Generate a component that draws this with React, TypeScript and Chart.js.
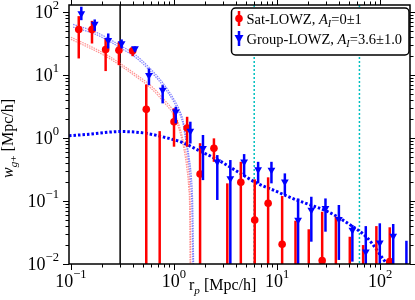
import React, { useEffect, useRef } from "react";
import { Chart, registerables } from "chart.js";
Chart.register(...registerables);

// ---------- data ----------
// Sat-LOWZ (null value: point lies below the axis; null low: bar runs past the bottom)
const satRp = [0.119, 0.16, 0.217, 0.292, 0.397, 0.538, 0.726, 1.0, 1.34, 1.79, 2.44, 3.29, 4.45, 6.07, 8.19, 11.2, 15.1, 20.3, 27.4, 37.2, 50.8, 68.4, 92, 124];
const satW = [53, 53, 25.6, 24.9, 24.4, 2.86, null, 1.82, 1.44, 0.268, 0.687, null, 0.198, 0.05, 0.092, 0.0206, null, null, 0.0113, null, null, null, null, 0.0109];
const satHi = [86.5, 72.8, 38.3, 33.8, 28.1, 7.1, 1.29, 2.97, 2.18, 0.83, 0.99, 0.191, 0.42, 0.221, 0.238, 0.12, 0.0486, 0.0356, 0.0676, 0.0564, 0.0271, 0.02, 0.04, 0.0383];
const satLo = [18.4, 31.8, 11.6, 14.4, 20, null, null, 0.73, 0.73, null, 0.42, null, null, null, null, null, null, null, null, null, null, null, null, null];

// Group-LOWZ
const grpRp = [0.126, 0.17, 0.23, 0.31, 0.418, 0.571, 0.776, 1.04, 1.44, 1.91, 2.63, 3.52, 4.79, 6.55, 8.82, 11.9, 16.0, 21.5, 29.5, 39.8, 53.8, 72.6, 99.3, 134, 180];
const grpW = [95.3, 64.6, 35.9, 31.9, 26.5, 10, 5.78, 2.61, 1.29, 0.687, 0.42, 0.229, 0.42, 0.318, 0.31, 0.202, 0.05, 0.072, 0.0766, 0.0513, 0.0347, 0.0157, 0.0218, 0.0278, null];
const grpHi = [122, 76.6, 45.9, 36.9, 28.6, 12.8, 6.93, 3.14, 1.82, 1.12, 0.537, 0.448, 0.557, 0.42, 0.42, 0.275, 0.11, 0.117, 0.11, 0.0865, 0.0416, 0.04, 0.0443, 0.0432, 0.0234];
const grpLo = [74.6, 50.5, 26.5, 26.5, 23.8, 6.93, 3.56, 1.71, 0.82, 0.215, 0.104, null, 0.243, 0.191, 0.191, 0.124, null, 0.0226, 0.0326, 0.0116, 0.0109, null, null, null, null];

// model curves [rp, w]
const nlaModel: [number, number][] = [[0.0957, 1.09], [0.15, 1.15], [0.3, 1.27], [0.5, 1.21], [0.87, 1.0], [1.23, 0.84], [1.71, 0.645], [2.68, 0.448], [4.15, 0.292], [6.43, 0.191], [10, 0.141], [14.1, 0.11], [19.9, 0.0895], [31.2, 0.0676], [48.6, 0.0443], [75.7, 0.0256], [106, 0.0123], [125, 0.0085]];
const grpModelUpper: [number, number][] = [[0.105, 64], [0.17, 49], [0.229, 38.5], [0.297, 30], [0.415, 21.5], [0.56, 13.8], [0.78, 7.5], [1.01, 4.0], [1.15, 2.6], [1.23, 1.85], [1.3, 1.05], [1.4, 0.5], [1.47, 0.25], [1.52, 0.085], [1.55, 0.01]];
const grpModelLower: [number, number][] = [[0.105, 58], [0.17, 45], [0.229, 35.5], [0.297, 27.5], [0.415, 19.6], [0.56, 12.6], [0.78, 6.8], [1.01, 3.6], [1.15, 2.3], [1.23, 1.6], [1.3, 0.9], [1.38, 0.45], [1.44, 0.22], [1.49, 0.08], [1.52, 0.01]];
const satModelUpper: [number, number][] = [[0.1, 40], [0.146, 30], [0.212, 22], [0.286, 16.2], [0.415, 10.6], [0.602, 6.7], [0.81, 4.0], [1.01, 2.5], [1.14, 1.45], [1.25, 0.8], [1.35, 0.42], [1.41, 0.2], [1.44, 0.07], [1.455, 0.01]];
const satModelLower: [number, number][] = [[0.1, 37], [0.146, 27.8], [0.212, 20.4], [0.286, 15], [0.415, 9.8], [0.602, 6.1], [0.81, 3.6], [1.01, 2.2], [1.14, 1.25], [1.25, 0.66], [1.33, 0.34], [1.39, 0.16], [1.42, 0.06], [1.43, 0.01]];

const blackLineRp = [0.3];
const cyanLineRp = [6.0, 63];

const xRange = [0.0957, 195];
const yRange = [0.01, 130];
const xLabelDecades = [-1, 0, 1, 2];
const yLabelDecades = [-2, -1, 0, 1, 2];

const satLabel = ["Sat-LOWZ, ", "A", "I", "=0±1"];
const grpLabel = ["Group-LOWZ, ", "A", "I", "=3.6±1.0"];

// ---------- drawing helpers ----------
const SERIF = '"Liberation Serif", "Times New Roman", serif';
type Run = { t: string; it?: boolean; sub?: boolean; sup?: boolean };

function runFont(r: Run, size: number) {
  const s = r.sub || r.sup ? size * 0.7 : size;
  return `${r.it ? "italic " : ""}${s}px ${SERIF}`;
}
function runsWidth(ctx: CanvasRenderingContext2D, runs: Run[], size: number) {
  let w = 0;
  for (const r of runs) {
    ctx.font = runFont(r, size);
    w += ctx.measureText(r.t).width;
  }
  return w;
}
function drawRuns(ctx: CanvasRenderingContext2D, x: number, y: number, runs: Run[], size: number) {
  let cx = x;
  ctx.textAlign = "left";
  ctx.textBaseline = "alphabetic";
  for (const r of runs) {
    ctx.font = runFont(r, size);
    const dy = r.sub ? size * 0.22 : r.sup ? -size * 0.5 : 0;
    ctx.fillText(r.t, cx, y + dy);
    cx += ctx.measureText(r.t).width;
  }
}
function decadeRuns(d: number): Run[] {
  return [{ t: "10" }, { t: d < 0 ? "\u2212" + -d : String(d), sup: true }];
}
function tickValues(min: number, max: number) {
  const out: { v: number; major: boolean }[] = [];
  for (let e = Math.floor(Math.log10(min)); e <= Math.ceil(Math.log10(max)); e++) {
    for (let m = 1; m <= 9; m++) {
      const v = m * Math.pow(10, e);
      if (v >= min * 0.999 && v <= max * 1.001) out.push({ v, major: m === 1 });
    }
  }
  return out;
}

const decorPlugin = {
  id: "decor",
  beforeDatasetsDraw(chart: any) {
    const { ctx, chartArea: a, scales } = chart;
    ctx.save();
    ctx.beginPath();
    ctx.rect(a.left, a.top, a.right - a.left, a.bottom - a.top);
    ctx.clip();
    ctx.strokeStyle = "#000";
    ctx.lineWidth = 1.5;
    for (const r of blackLineRp) {
      const px = scales.x.getPixelForValue(r);
      ctx.beginPath();
      ctx.moveTo(px, a.top);
      ctx.lineTo(px, a.bottom);
      ctx.stroke();
    }
    ctx.strokeStyle = "#00bfbf";
    ctx.setLineDash([2, 2]);
    for (const r of cyanLineRp) {
      const px = scales.x.getPixelForValue(r);
      ctx.beginPath();
      ctx.moveTo(px, a.top);
      ctx.lineTo(px, a.bottom);
      ctx.stroke();
    }
    ctx.restore();
  },
  beforeDatasetDraw(chart: any, args: any) {
    const ds = chart.data.datasets[args.index];
    if (!ds.errHi) return;
    const { ctx, chartArea: a, scales } = chart;
    ctx.save();
    ctx.beginPath();
    ctx.rect(a.left, a.top, a.right - a.left, a.bottom - a.top);
    ctx.clip();
    ctx.strokeStyle = ds.borderColor;
    ctx.lineWidth = 2.5;
    ds.errRp.forEach((r: number, i: number) => {
      const hi = ds.errHi[i];
      const lo = ds.errLo[i];
      const px = scales.x.getPixelForValue(r);
      const top = scales.y.getPixelForValue(hi);
      const bot = lo == null ? a.bottom + 5 : scales.y.getPixelForValue(lo);
      ctx.beginPath();
      ctx.moveTo(px, top);
      ctx.lineTo(px, bot);
      ctx.stroke();
    });
    ctx.restore();
  },
  afterDraw(chart: any) {
    const { ctx, chartArea: a, scales } = chart;
    const xs = scales.x, ys = scales.y;
    ctx.save();
    ctx.fillStyle = "#000";
    ctx.strokeStyle = "#000";
    // ticks (outward, all four sides)
    ctx.lineWidth = 1;
    for (const t of tickValues(xRange[0], xRange[1])) {
      const px = Math.round(xs.getPixelForValue(t.v)) + 0.5;
      const len = t.major ? 6 : 3.5;
      ctx.beginPath();
      ctx.moveTo(px, a.bottom);
      ctx.lineTo(px, a.bottom + len);
      ctx.moveTo(px, a.top);
      ctx.lineTo(px, a.top - len);
      ctx.stroke();
    }
    for (const t of tickValues(yRange[0], yRange[1])) {
      const py = Math.round(ys.getPixelForValue(t.v)) + 0.5;
      const len = t.major ? 6 : 3.5;
      ctx.beginPath();
      ctx.moveTo(a.left, py);
      ctx.lineTo(a.left - len, py);
      ctx.moveTo(a.right, py);
      ctx.lineTo(a.right + len, py);
      ctx.stroke();
    }
    // frame
    ctx.lineWidth = 1.5;
    ctx.strokeRect(a.left, a.top, a.right - a.left, a.bottom - a.top);

    // tick labels
    const fs = 18;
    for (const d of xLabelDecades) {
      const runs = decadeRuns(d);
      const w = runsWidth(ctx, runs, fs);
      const px = xs.getPixelForValue(Math.pow(10, d));
      drawRuns(ctx, px - w / 2, a.bottom + 23, runs, fs);
    }
    for (const d of yLabelDecades) {
      const runs = decadeRuns(d);
      const w = runsWidth(ctx, runs, fs);
      const py = ys.getPixelForValue(Math.pow(10, d));
      drawRuns(ctx, a.left - 10 - w, py + 6, runs, fs);
    }
    // axis titles
    const tfs = 16;
    const xTitle: Run[] = [{ t: "r" }, { t: "p", it: true, sub: true }, { t: " [Mpc/h]" }];
    drawRuns(ctx, 189, a.bottom + 26, xTitle, tfs);
    const yTitle: Run[] = [{ t: "w", it: true }, { t: "g", it: true, sub: true }, { t: "+", sub: true }, { t: " [Mpc/h]" }];
    const yw = runsWidth(ctx, yTitle, tfs);
    ctx.save();
    ctx.translate(8, (a.top + a.bottom) / 2 + 4);
    ctx.rotate(-Math.PI / 2);
    drawRuns(ctx, -yw / 2, 5, yTitle, tfs);
    ctx.restore();

    // legend
    const L = 231.5, T = 8, R = a.right - 1, B = 55;
    ctx.beginPath();
    ctx.roundRect(L, T, R - L, B - T, 4);
    ctx.fillStyle = "#fff";
    ctx.fill();
    ctx.lineWidth = 1.5;
    ctx.strokeStyle = "#000";
    ctx.stroke();
    const rows = [
      { label: satLabel, color: "#ff0000", tri: false, y: 18.5 },
      { label: grpLabel, color: "#0000ff", tri: true, y: 38.5 },
    ];
    for (const row of rows) {
      const mx = 239;
      ctx.strokeStyle = row.color;
      ctx.fillStyle = row.color;
      ctx.lineWidth = 2.5;
      ctx.beginPath();
      ctx.moveTo(mx, row.y - 7.5);
      ctx.lineTo(mx, row.y + 7.5);
      ctx.stroke();
      ctx.beginPath();
      if (row.tri) {
        ctx.moveTo(mx - 4.5, row.y - 3.5);
        ctx.lineTo(mx + 4.5, row.y - 3.5);
        ctx.lineTo(mx, row.y + 4.5);
        ctx.closePath();
      } else {
        ctx.arc(mx, row.y, 3.8, 0, Math.PI * 2);
      }
      ctx.fill();
      ctx.fillStyle = "#000";
      const runs: Run[] = [
        { t: row.label[0] },
        { t: row.label[1], it: true },
        { t: row.label[2], it: true, sub: true },
        { t: row.label[3] },
      ];
      drawRuns(ctx, 246.5, row.y + 5, runs, 14.5);
    }
    ctx.restore();
  },
};

const toPts = (xs: number[], ys: (number | null)[]) => xs.map((x, i) => ({ x, y: ys[i] }));
const pairPts = (p: [number, number][]) => p.map(([x, y]) => ({ x, y }));

export default function App() {
  const ref = useRef<HTMLCanvasElement | null>(null);
  useEffect(() => {
    document.body.style.margin = "0";
    if (!ref.current) return;
    const bandLine = (data: any, color: string) => ({
      type: "line",
      data,
      borderColor: color,
      borderWidth: 1.2,
      borderDash: [1.5, 1],
      pointRadius: 0,
      fill: false,
      cubicInterpolationMode: "monotone",
      order: 5,
    });
    const chart = new Chart(ref.current, {
      type: "scatter",
      data: {
        datasets: [
          {
            type: "scatter",
            label: "Group-LOWZ",
            data: toPts(grpRp, grpW),
            borderColor: "#0000ff",
            backgroundColor: "#0000ff",
            pointStyle: "triangle",
            rotation: 180,
            pointRadius: 4.5,
            borderWidth: 0,
            order: 0,
            errRp: grpRp,
            errHi: grpHi,
            errLo: grpLo,
          } as any,
          {
            type: "scatter",
            label: "Sat-LOWZ",
            data: toPts(satRp, satW),
            borderColor: "#ff0000",
            backgroundColor: "#ff0000",
            pointStyle: "circle",
            pointRadius: 3.8,
            borderWidth: 0,
            order: 1,
            errRp: satRp,
            errHi: satHi,
            errLo: satLo,
          } as any,
          {
            type: "line",
            data: pairPts(nlaModel),
            borderColor: "#0000ff",
            borderWidth: 3,
            borderDash: [2.5, 2],
            pointRadius: 0,
            fill: false,
            cubicInterpolationMode: "monotone",
            order: 4,
          } as any,
          bandLine(pairPts(grpModelUpper), "rgba(90,90,255,0.75)") as any,
          bandLine(pairPts(grpModelLower), "rgba(90,90,255,0.75)") as any,
          bandLine(pairPts(satModelUpper), "rgba(255,110,110,0.75)") as any,
          bandLine(pairPts(satModelLower), "rgba(255,110,110,0.75)") as any,
        ],
      },
      options: {
        responsive: false,
        animation: false,
        devicePixelRatio: 1,
        layout: { padding: { left: 69, right: 5, top: 5, bottom: 36 } },
        plugins: { legend: { display: false }, tooltip: { enabled: false } },
        scales: {
          x: { type: "logarithmic", min: xRange[0], max: xRange[1], display: false },
          y: { type: "logarithmic", min: yRange[0], max: yRange[1], display: false },
        },
      } as any,
      plugins: [decorPlugin],
    });
    return () => chart.destroy();
  }, []);
  return (
    <div style={{ width: 415, height: 300, background: "#fff" }}>
      <canvas ref={ref} width={415} height={300} style={{ display: "block" }} />
    </div>
  );
}
